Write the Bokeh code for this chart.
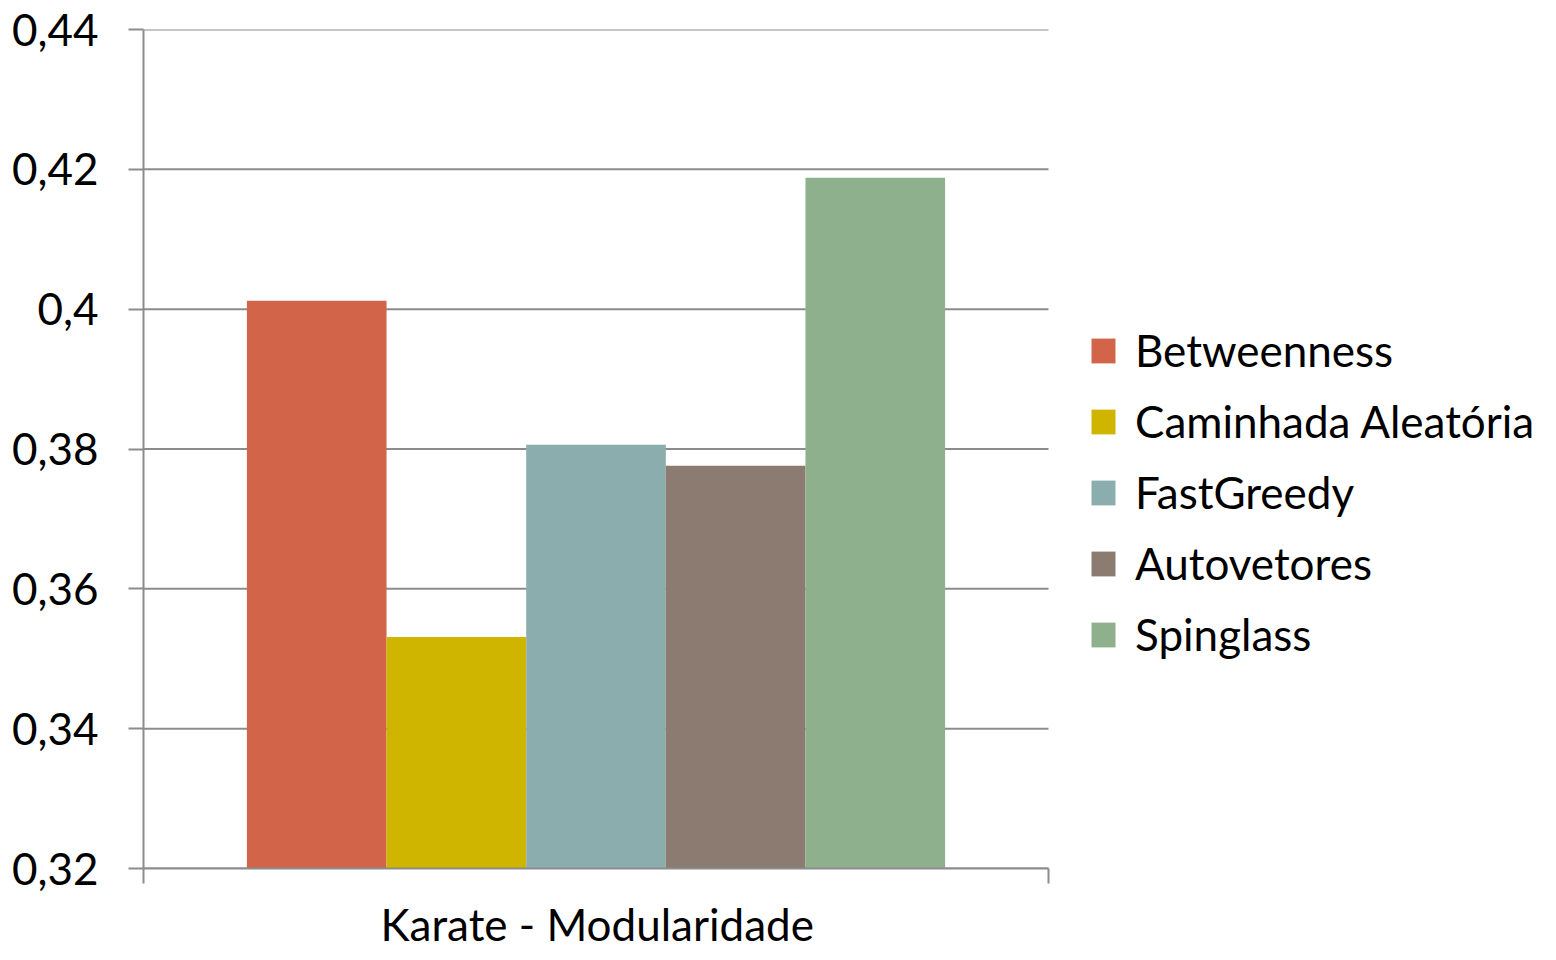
from bokeh.plotting import figure
from bokeh.models import ColumnDataSource, Range1d, FixedTicker, Title
from bokeh.embed import file_html
from bokeh.resources import INLINE

methods = ["Betweenness", "Caminhada Aleatória", "FastGreedy", "Autovetores", "Spinglass"]
modularity = [0.4012, 0.3531, 0.3806, 0.3776, 0.4188]
colors = ["#D2644A", "#CFB500", "#8CADAE", "#8C7B70", "#8FB08C"]
category = "Karate - Modularidade"
y_ticks = [0.32, 0.34, 0.36, 0.38, 0.40, 0.42, 0.44]
y_tick_labels = ["0,32", "0,34", "0,36", "0,38", "0,4", "0,42", "0,44"]

FONT = "Lato"
FS = "44px"
GRID = "#8c8c8c"

PLOT_W = 905          # pixel width of the category area
FRAME_W = 1405        # frame also hosts the legend on the right
n = len(methods)
bar_w = 0.1543
xs = [0.5 + (i - (n - 1) / 2) * bar_w for i in range(n)]
src = ColumnDataSource(dict(x=xs, top=modularity, method=methods, color=colors))

p = figure(frame_width=FRAME_W, frame_height=839, output_backend="svg", toolbar_location=None,
           x_range=Range1d(0, FRAME_W / PLOT_W), y_range=Range1d(0.32, 0.44),
           min_border_left=143, min_border_top=29, min_border_right=0,
           min_border_bottom=92)
p.outline_line_color = None
p.background_fill_color = "white"
p.border_fill_color = "white"

# horizontal gridlines over the category area only
p.segment(x0=0, x1=1, y0=y_ticks, y1=y_ticks, line_color=GRID, line_width=2,
          level="underlay")

p.vbar(x="x", top="top", bottom=0.32, width=bar_w, color="color", line_color=None,
       source=src, legend_field="method")

# y axis
p.yaxis.ticker = FixedTicker(ticks=y_ticks)
p.yaxis.major_label_overrides = {t: l for t, l in zip(y_ticks, y_tick_labels)}
p.yaxis.axis_line_color = GRID
p.yaxis.axis_line_width = 2
p.yaxis.major_tick_line_color = GRID
p.yaxis.major_tick_line_width = 2
p.yaxis.major_tick_out = 15
p.yaxis.major_tick_in = 0
p.yaxis.minor_tick_line_color = None
p.yaxis.major_label_standoff = 30
p.yaxis.major_label_text_font = FONT
p.yaxis.major_label_text_font_size = FS
p.yaxis.major_label_text_color = "black"

# x axis
p.xaxis.bounds = (0, 1)
p.xaxis.ticker = FixedTicker(ticks=[0, 1])
p.xaxis.major_label_overrides = {0: "", 1: ""}
p.xaxis.major_label_text_font_size = "0px"
p.xaxis.major_label_standoff = 0
p.xaxis.axis_line_color = GRID
p.xaxis.axis_line_width = 2
p.xaxis.major_tick_line_color = GRID
p.xaxis.major_tick_line_width = 2
p.xaxis.major_tick_out = 15
p.xaxis.major_tick_in = 0
p.xaxis.minor_tick_line_color = None

# category label, centred under the category area
cat_title = Title(text=category, align="left", offset=237, standoff=24,
                  text_font=FONT, text_font_size=FS, text_font_style="normal",
                  text_color="black")
p.add_layout(cat_title, "below")

p.xgrid.grid_line_color = None
p.ygrid.grid_line_color = None

lg = p.legend[0]
lg.location = (945, 208)
lg.label_text_font = FONT
lg.label_text_font_size = FS
lg.label_text_color = "black"
lg.glyph_width = 30
lg.glyph_height = 31
lg.label_standoff = 17
lg.label_height = 52
lg.spacing = 19
lg.padding = 0
lg.margin = 0
lg.border_line_color = None
lg.background_fill_alpha = 0

open("out.html", "w").write(file_html(p, INLINE))
